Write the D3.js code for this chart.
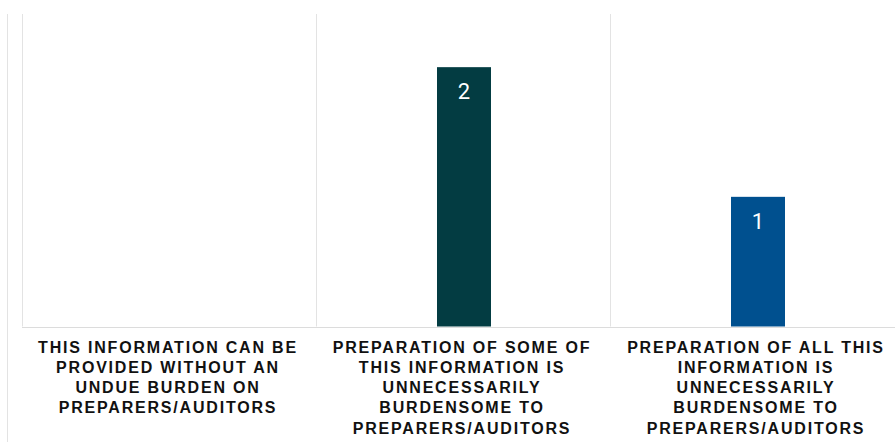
<!DOCTYPE html>
<html>
<head>
<meta charset="utf-8">
<script src="https://cdn.jsdelivr.net/npm/d3@7"></script>
<style>
  body { margin: 0; background: #fff; overflow: hidden; }
</style>
</head>
<body>
<svg id="chart"></svg>
<script>
// data
var categories = ["cat1", "cat2", "cat3"];
var values = [0, 2, 1];
var barColors = ["#00508f", "#033c42", "#00508f"];
var tickLabels = [
  ["THIS INFORMATION CAN BE", "PROVIDED WITHOUT AN", "UNDUE BURDEN ON", "PREPARERS/AUDITORS"],
  ["PREPARATION OF SOME OF", "THIS INFORMATION IS", "UNNECESSARILY", "BURDENSOME TO", "PREPARERS/AUDITORS"],
  ["PREPARATION OF ALL THIS", "INFORMATION IS", "UNNECESSARILY", "BURDENSOME TO", "PREPARERS/AUDITORS"]
];

var width = 895, height = 442;
var margin = {top: 14, left: 22, bottom: 116};

var svg = d3.select("#chart")
  .attr("width", width)
  .attr("height", height);

// outer left frame line
svg.append("line")
  .attr("x1", 7.5).attr("x2", 7.5)
  .attr("y1", margin.top).attr("y2", height)
  .attr("stroke", "#e3e3e3")
  .attr("stroke-width", 1);

var x = d3.scaleBand()
  .domain(categories)
  .range([margin.left, margin.left + 3 * 294]);

var y = d3.scaleLinear()
  .domain([0, 2.41])
  .range([height - margin.bottom + 0.5, margin.top]);

// vertical grid lines at band edges
var edges = categories.map(function(c) { return x(c); });
svg.selectAll(".grid")
  .data(edges)
  .enter()
  .append("line")
  .attr("class", "grid")
  .attr("x1", function(d) { return Math.round(d) + 0.5; })
  .attr("x2", function(d) { return Math.round(d) + 0.5; })
  .attr("y1", y.range()[1])
  .attr("y2", y(0))
  .attr("stroke", "#e3e3e3");

// baseline
svg.append("line")
  .attr("x1", margin.left).attr("x2", width)
  .attr("y1", Math.round(y(0)) + 0.5).attr("y2", Math.round(y(0)) + 0.5)
  .attr("stroke", "#dcdcdc");

// bars
var barW = 54;
svg.selectAll(".bar")
  .data(values)
  .enter()
  .filter(function(d) { return d > 0; })
  .append("rect")
  .attr("class", "bar")
  .attr("x", function(d) { return x(categories[values.indexOf(d)]) + x.bandwidth() / 2 - barW / 2 + 1; })
  .attr("y", function(d) { return y(d); })
  .attr("width", barW)
  .attr("height", function(d) { return y(0) - y(d); })
  .attr("fill", function(d) { return barColors[values.indexOf(d)]; });

// value labels
svg.selectAll(".val")
  .data(values)
  .enter()
  .filter(function(d) { return d > 0; })
  .append("text")
  .attr("class", "val")
  .attr("x", function(d) { return x(categories[values.indexOf(d)]) + x.bandwidth() / 2 + 1; })
  .attr("y", function(d) { return y(d) + 32; })
  .attr("text-anchor", "middle")
  .style("font-family", "Roboto, sans-serif")
  .style("font-size", "22px")
  .style("fill", "#fff")
  .text(function(d) { return d; });

// category labels
var lab = svg.selectAll(".lab")
  .data(categories)
  .enter()
  .append("text")
  .attr("class", "lab")
  .attr("text-anchor", "middle")
  .style("font-family", "'Liberation Sans', Arial, sans-serif")
  .style("font-weight", "bold")
  .style("font-size", "16px")
  .style("letter-spacing", "1.8px")
  .style("fill", "#111");

lab.each(function(c, i) {
  d3.select(this).selectAll("tspan")
    .data(tickLabels[i])
    .enter()
    .append("tspan")
    .attr("x", x(c) + x.bandwidth() / 2 - 1)
    .attr("y", function(d, j) { return 352.5 + j * 20.3; })
    .text(function(d) { return d; });
});
</script>
</body>
</html>
